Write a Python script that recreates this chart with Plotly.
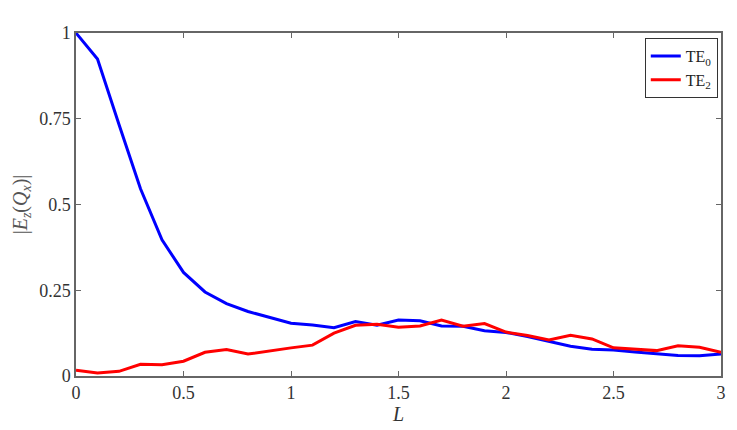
import plotly.graph_objects as go

L = [round(i * 0.1, 1) for i in range(31)]
te0 = [1.0, 0.924, 0.733, 0.546, 0.397, 0.302, 0.245, 0.211, 0.188, 0.17,
       0.154, 0.149, 0.141, 0.159, 0.148, 0.163, 0.161, 0.146, 0.145, 0.132,
       0.127, 0.115, 0.101, 0.087, 0.078, 0.076, 0.070, 0.066, 0.060, 0.059, 0.064]
te2 = [0.0165, 0.0087, 0.0135, 0.034, 0.033, 0.043, 0.069, 0.077, 0.064, 0.074,
       0.082, 0.09, 0.125, 0.148, 0.151, 0.142, 0.146, 0.163, 0.145, 0.153,
       0.128, 0.118, 0.105, 0.119, 0.108, 0.082, 0.078, 0.074, 0.088, 0.084, 0.069]
x_ticks = [0, 0.5, 1, 1.5, 2, 2.5, 3]
x_ticklabels = ["0", "0.5", "1", "1.5", "2", "2.5", "3"]
y_ticks = [0, 0.25, 0.5, 0.75, 1]
y_ticklabels = ["0", "0.25", "0.5", "0.75", "1"]

SERIF = "'Liberation Serif', 'Times New Roman', 'DejaVu Serif', serif"

fig = go.Figure()
fig.add_trace(go.Scatter(x=L, y=te0, mode="lines", name="TE<sub>0</sub>",
                         line=dict(color="#0000ff", width=3)))
fig.add_trace(go.Scatter(x=L, y=te2, mode="lines", name="TE<sub>2</sub>",
                         line=dict(color="#ff0000", width=3)))

axis_common = dict(showline=True, linecolor="#666666", linewidth=1.5, mirror="ticks",
                   ticks="inside", ticklen=5, tickcolor="#666666", showgrid=False,
                   zeroline=False, tickfont=dict(family=SERIF, size=18, color="#333333"))
fig.update_xaxes(range=[0, 3], tickvals=x_ticks, ticktext=x_ticklabels,
                 title=dict(text="<i>L</i>", font=dict(family=SERIF, size=20, color="#333333"), standoff=2),
                 **axis_common)
fig.update_yaxes(range=[0, 1], tickvals=y_ticks, ticktext=y_ticklabels,
                 title=dict(text="|<i>E</i><sub><i>z</i></sub>(<i>Q</i><sub><i>x</i></sub>)|",
                            font=dict(family=SERIF, size=20, color="#555555"), standoff=6),
                 **axis_common)
fig.update_layout(
    width=729, height=422,
    margin=dict(l=67, r=11, t=25, b=51),
    plot_bgcolor="white", paper_bgcolor="white",
    font=dict(family=SERIF, color="#333333"),
    legend=dict(x=0.995, y=0.985, xanchor="right", yanchor="top",
                bgcolor="white", bordercolor="#333333", borderwidth=1,
                font=dict(family=SERIF, size=16, color="#222222"),
                tracegroupgap=0, itemwidth=30),
)
fig.write_html("out.html")
